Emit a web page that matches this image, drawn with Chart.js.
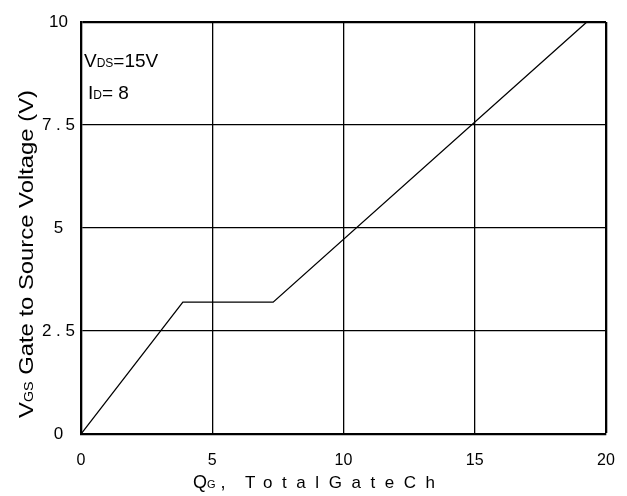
<!DOCTYPE html>
<html>
<head>
<meta charset="utf-8">
<script src="https://cdn.jsdelivr.net/npm/chart.js"></script>
<style>
  html, body { margin: 0; padding: 0; background: #fff; }
  #wrap { width: 627px; height: 496px; }
</style>
</head>
<body>
<div id="wrap"><canvas id="gateChart" width="627" height="496"></canvas></div>
<script>
// curva de carga de gate
const qgValues = [0, 3.88, 7.32, 19.27];
const vgsValues = [0, 3.2, 3.2, 10];
const xTickValues = [0, 5, 10, 15, 20];
const yTickValues = [0, 2.5, 5, 7.5, 10];
const yTickLabels = ['0', '2 . 5', '5', '7 . 5', '10'];

const FONT = '"Liberation Sans", Arial, sans-serif';

function drawParts(ctx, parts, x, y) {
    let cx = x;
    parts.forEach(p => {
        ctx.font = p.size + 'px ' + FONT;
        ctx.letterSpacing = (p.spacing || 0) + 'px';
        ctx.fillText(p.text, cx, y);
        cx += ctx.measureText(p.text).width;
    });
    ctx.letterSpacing = '0px';
    return cx - x;
}

function partsWidth(ctx, parts) {
    let w = 0;
    parts.forEach(p => {
        ctx.font = p.size + 'px ' + FONT;
        ctx.letterSpacing = (p.spacing || 0) + 'px';
        w += ctx.measureText(p.text).width;
    });
    ctx.letterSpacing = '0px';
    return w;
}

const textPlugin = {
    id: 'textPlugin',
    afterDraw(chart) {
        const ctx = chart.ctx;
        const area = chart.chartArea;
        ctx.save();
        ctx.fillStyle = '#000';
        ctx.textBaseline = 'alphabetic';
        ctx.textAlign = 'left';

        // anotacoes
        drawParts(ctx, [{text: 'V', size: 19}, {text: 'DS', size: 12}, {text: '=15V', size: 19}], area.left + 3, 67);
        drawParts(ctx, [{text: 'I', size: 19}, {text: 'D', size: 12}, {text: '= 8', size: 19}], area.left + 7, 99);

        // titulo eixo X
        drawParts(ctx, [{text: 'Q', size: 18}, {text: 'G', size: 11}, {text: ' ,', size: 18}], 193, 488);
        ctx.font = '17px ' + FONT;
        const word = 'TotalGateCh';
        const natural = ctx.measureText(word).width;
        const spacing = (190 - natural) / (word.length - 1);
        drawParts(ctx, [{text: word, size: 17, spacing: spacing}], 245, 488);

        // titulo eixo Y (girado)
        const yParts = [{text: 'V', size: 20}, {text: 'GS', size: 12}, {text: ' Gate to Source Voltage (V)', size: 20}];
        const w = partsWidth(ctx, yParts);
        ctx.translate(33, 418);
        ctx.rotate(-Math.PI / 2);
        ctx.scale(328 / w, 1);
        drawParts(ctx, yParts, 0, 0);
        ctx.restore();
    }
};

const chart = new Chart(document.getElementById('gateChart'), {
    type: 'line',
    data: {
        datasets: [{
            label: 'VGS',
            data: qgValues.map((q, i) => ({x: q, y: vgsValues[i]})),
            borderColor: '#000',
            borderWidth: 1.3,
            pointRadius: 0,
            fill: false,
            tension: 0
        }]
    },
    options: {
        responsive: false,
        animation: false,
        layout: { padding: { left: 0, top: 22, right: 21, bottom: 0 } },
        plugins: {
            legend: { display: false },
            tooltip: { enabled: false }
        },
        scales: {
            x: {
                type: 'linear',
                min: 0,
                max: 20,
                afterBuildTicks: s => { s.ticks = xTickValues.map(v => ({value: v})); },
                afterFit: s => { s.height = 62; s.paddingLeft = 0; s.paddingRight = 0; },
                grid: {
                    color: '#000',
                    drawTicks: false,
                    lineWidth: c => (c.tick && c.tick.value === 20) ? 2.3 : 1.3
                },
                border: { color: '#000', width: 2.3 },
                ticks: {
                    color: '#000',
                    padding: 17,
                    maxRotation: 0,
                    font: { family: FONT, size: 16 }
                }
            },
            y: {
                min: 0,
                max: 10,
                afterBuildTicks: s => { s.ticks = yTickValues.map(v => ({value: v})); },
                afterFit: s => { s.width = 81; s.paddingTop = 0; s.paddingBottom = 0; },
                grid: {
                    color: '#000',
                    drawTicks: false,
                    lineWidth: c => (c.tick && c.tick.value === 10) ? 2.3 : 1.3
                },
                border: { color: '#000', width: 2.3 },
                ticks: {
                    color: '#000',
                    padding: 6,
                    crossAlign: 'center',
                    font: { family: FONT, size: 17 },
                    callback: (v, i) => yTickLabels[i]
                }
            }
        }
    },
    plugins: [textPlugin]
});
</script>
</body>
</html>
